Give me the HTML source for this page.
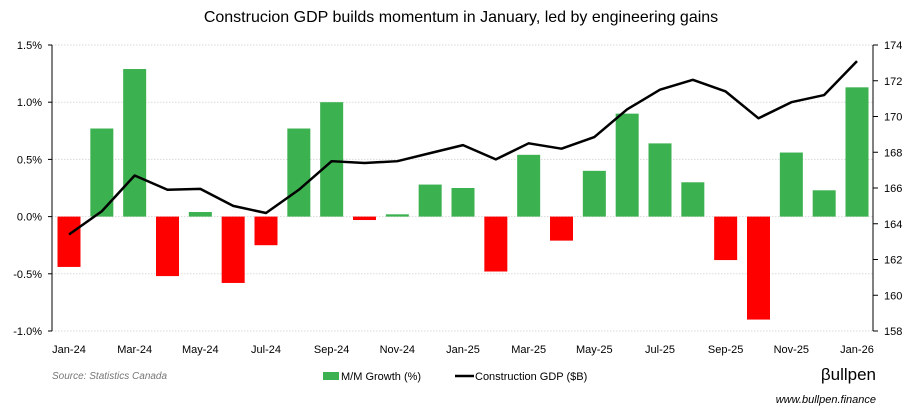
<!DOCTYPE html>
<html><head><meta charset="utf-8"><style>
html,body{margin:0;padding:0;background:#fff;}
svg{display:block;font-family:"Liberation Sans Narrow","Liberation Sans",sans-serif;}
</style></head><body>
<svg id="chart" width="923" height="413" viewBox="0 0 923 413" xmlns="http://www.w3.org/2000/svg">
<text x="461" y="22" text-anchor="middle" font-size="16" fill="#000">Construcion GDP builds momentum in January, led by engineering gains</text>
<g id="grid"></g><g id="bars"></g><g id="line"></g><g id="axes"></g>
<text x="52" y="379" font-size="10" font-style="italic" fill="#777">Source: Statistics Canada</text>
<rect x="323" y="372" width="16" height="8" fill="#3cb150"/>
<text x="341" y="380" font-size="11" fill="#000">M/M Growth (%)</text>
<line x1="455" y1="376" x2="474" y2="376" stroke="#000" stroke-width="2.5"/>
<text x="475" y="380" font-size="11" fill="#000">Construction GDP ($B)</text>
<text x="876" y="380" text-anchor="end" font-size="17" fill="#000">βullpen</text>
<text x="876" y="403" text-anchor="end" font-size="11" font-style="italic" fill="#000">www.bullpen.finance</text>
</svg>
<script>
const categories=["Jan-24","Feb-24","Mar-24","Apr-24","May-24","Jun-24","Jul-24","Aug-24","Sep-24","Oct-24","Nov-24","Dec-24","Jan-25","Feb-25","Mar-25","Apr-25","May-25","Jun-25","Jul-25","Aug-25","Sep-25","Oct-25","Nov-25","Dec-25","Jan-26"];
const growth=[-0.44,0.77,1.29,-0.52,0.04,-0.58,-0.25,0.77,1.00,-0.03,0.02,0.28,0.25,-0.48,0.54,-0.21,0.40,0.90,0.64,0.30,-0.38,-0.90,0.56,0.23,1.13];
const gdp=[163.4,164.7,166.7,165.9,165.95,165.0,164.6,165.9,167.5,167.4,167.5,167.95,168.4,167.6,168.5,168.2,168.85,170.4,171.5,172.05,171.4,169.9,170.8,171.2,173.1];
const leftTicks=[-1.0,-0.5,0,0.5,1.0,1.5];
const leftTickLabels=["-1.0%","-0.5%","0.0%","0.5%","1.0%","1.5%"];
const rightTicks=[158,160,162,164,166,168,170,172,174];
const NS="http://www.w3.org/2000/svg";
const X0=69,X1=857,TOP=45,BOT=331,LAX=52,RAX=873;
const xs=i=>X0+(X1-X0)*i/(categories.length-1);
const yl=v=>BOT-(v-(-1))/(2.5)*(BOT-TOP);
const yr=v=>BOT-(v-158)/16*(BOT-TOP);
function mk(tag,attrs,parent,text){const e=document.createElementNS(NS,tag);for(const k in attrs)e.setAttribute(k,attrs[k]);if(text!==undefined)e.textContent=text;document.getElementById(parent).appendChild(e);return e;}
leftTicks.forEach((t,i)=>{
 const g=mk('line',{x1:LAX,x2:RAX,y1:yl(t),y2:yl(t),stroke:'#d9d9d9','stroke-dasharray':'1.5,1.5','stroke-width':1},'grid');
 
 
 const tk=mk('line',{x1:LAX-4,x2:LAX,y1:yl(t),y2:yl(t),stroke:'#000'},'axes');
 
 
 const l=mk('text',{x:LAX-10,y:yl(t)+4,'text-anchor':'end','font-size':11},'axes',leftTickLabels[i]);
 
 
});
rightTicks.forEach(t=>{
 const tk=mk('line',{x1:RAX,x2:RAX+5,y1:yr(t),y2:yr(t),stroke:'#000'},'axes');
 
 
 const l=mk('text',{x:RAX+11,y:yr(t)+4,'font-size':11},'axes',String(t));
 
 
});
const la=mk('line',{x1:LAX,x2:LAX,y1:TOP,y2:BOT,stroke:'#000'},'axes');


const ra=mk('line',{x1:RAX,x2:RAX,y1:TOP,y2:BOT,stroke:'#000'},'axes');


growth.forEach((v,i)=>{
 const y0=yl(0),y=yl(v);
 const b=mk('rect',{x:xs(i)-11.5,y:Math.min(y,y0),width:23,height:Math.max(1,Math.abs(y-y0)),fill:v>=0?'#3cb150':'#ff0000'},'bars');
 
 
});
categories.forEach((c,i)=>{if(i%2)return;
 const l=mk('text',{x:xs(i),y:BOT+22,'text-anchor':'middle','font-size':11},'axes',c);
 
 
});
const p=mk('polyline',{points:gdp.map((v,i)=>xs(i)+','+yr(v)).join(' '),fill:'none',stroke:'#000','stroke-width':2.5,'stroke-linejoin':'round'},'line');


</script>
</body></html>
